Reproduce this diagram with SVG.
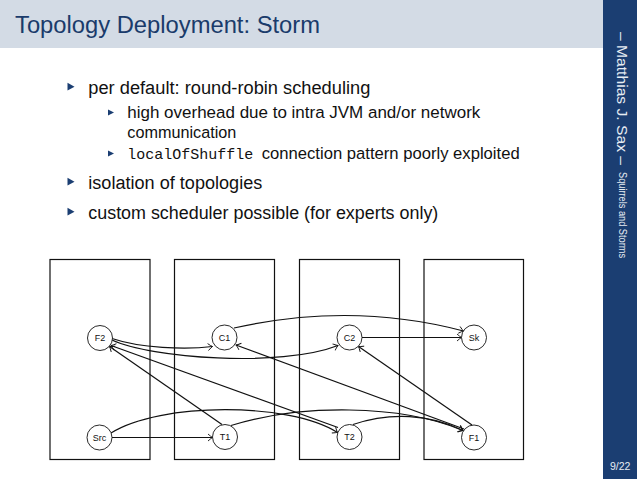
<svg xmlns="http://www.w3.org/2000/svg" width="638" height="479" viewBox="0 0 638 479">
<style>
.title{font-family:"Liberation Sans",Arial,sans-serif;font-size:23px;fill:#1a3b6b}
.t1{font-family:"Liberation Sans",Arial,sans-serif;font-size:18px;fill:#111}
.t2{font-family:"Liberation Sans",Arial,sans-serif;font-size:16.8px;fill:#111}
.mono{font-family:"Liberation Mono","Courier New",monospace;font-size:15px;fill:#111}
.bul{fill:#1b3e72}
.side{font-family:"Liberation Sans",Arial,sans-serif;fill:#e6ecf3}
.box{fill:none;stroke:#111;stroke-width:1.2}
.nd circle{fill:#fff;stroke:#111;stroke-width:0.9}
.nd text{font-family:"Liberation Sans",Arial,sans-serif;font-size:9px;fill:#111;text-anchor:middle}
.e{fill:none;stroke:#111;stroke-width:1.2;marker-end:url(#arr)}
</style>
<defs>
<marker id="arr" markerUnits="userSpaceOnUse" markerWidth="10" markerHeight="10" viewBox="-6 -5 8 10" refX="0" refY="0" orient="auto">
<path d="M-4.5,-3.5 Q-1.5,-0.8 0,0 Q-1.5,0.8 -4.5,3.5" fill="none" stroke="#111" stroke-width="0.9"/>
</marker>
</defs>
<rect width="638" height="479" fill="#fff"/>
<rect x="0" y="0" width="603" height="48" fill="#d3dbe5"/>
<rect x="603" y="0" width="34" height="479" fill="#1b3e72"/>
<text class="title" x="15" y="33" textLength="305" lengthAdjust="spacingAndGlyphs">Topology Deployment: Storm</text>
<text class="side" font-size="15" transform="translate(617,32) rotate(90)" textLength="133" lengthAdjust="spacingAndGlyphs">– Matthias J. Sax –</text>
<text class="side" font-size="10" transform="translate(619,172) rotate(90)" textLength="86" lengthAdjust="spacingAndGlyphs">Squirrels and Storms</text>
<text class="side" font-size="10.5" x="610" y="470">9/22</text>

<g id="bullets">
<polygon class="bul" points="67.5,82.8 74.5,86.7 67.5,90.6"/>
<text class="t1" x="88.3" y="94" textLength="282" lengthAdjust="spacingAndGlyphs">per default: round-robin scheduling</text>
<polygon class="bul" points="108,109.5 114,112.5 108,115.5"/>
<text class="t2" x="127.3" y="117.5" textLength="353" lengthAdjust="spacingAndGlyphs">high overhead due to intra JVM and/or network</text>
<text class="t2" x="127.3" y="137.5" textLength="109" lengthAdjust="spacingAndGlyphs">communication</text>
<polygon class="bul" points="108,150.5 114,153.5 108,156.5"/>
<text class="mono" x="127.3" y="158.5" textLength="126" lengthAdjust="spacingAndGlyphs">localOfShuffle</text>
<text class="t2" x="261.7" y="158.5" textLength="258" lengthAdjust="spacingAndGlyphs">connection pattern poorly exploited</text>
<polygon class="bul" points="67.5,177.8 74.5,181.7 67.5,185.6"/>
<text class="t1" x="88.3" y="189" textLength="174" lengthAdjust="spacingAndGlyphs">isolation of topologies</text>
<polygon class="bul" points="67.5,207.8 74.5,211.7 67.5,215.6"/>
<text class="t1" x="88.3" y="219" textLength="350" lengthAdjust="spacingAndGlyphs">custom scheduler possible (for experts only)</text>
</g>

<g id="box1"><rect class="box" x="50" y="259.5" width="100" height="200"/></g>
<g id="box2"><rect class="box" x="174.5" y="259.5" width="100" height="200"/></g>
<g id="box3"><rect class="box" x="299.5" y="259.5" width="100" height="200"/></g>
<g id="box4"><rect class="box" x="424" y="259.5" width="99.5" height="200"/></g>

<g id="connectors">
<path class="e" d="M112,437.5 L212.5,437.5"/>
<path class="e" d="M111,433 C160,402 290,402 337.5,432.5"/>
<path class="e" d="M222,424.5 L109.5,346.5"/>
<path class="e" d="M231,425.5 C300,404 400,404 463,430.5"/>
<path class="e" d="M338,427.5 L111,345.5"/>
<path class="e" d="M353,424.5 C390,412 430,414 463,430.5"/>
<path class="e" d="M112,338.5 C140,348 185,350 212.5,346.5"/>
<path class="e" d="M112,340 C150,358 280,368 338,345.5"/>
<path class="e" d="M464,429 L236,345"/>
<path class="e" d="M472,425 L358.5,346.5"/>
<path class="e" d="M234,328 C310,311 388,311 463.5,331"/>
<path class="e" d="M362,337.5 L461.5,337.5"/>
</g>

<g id="F2" class="nd"><circle cx="100" cy="338" r="12.5"/><text x="100" y="341">F2</text></g>
<g id="C1" class="nd"><circle cx="224.5" cy="337.5" r="12.5"/><text x="224.5" y="340.5">C1</text></g>
<g id="C2" class="nd"><circle cx="349.5" cy="337.5" r="12.5"/><text x="349.5" y="340.5">C2</text></g>
<g id="Sk" class="nd"><circle cx="474" cy="337.5" r="12.5"/><text x="474" y="340.5">Sk</text></g>
<g id="Src" class="nd"><circle cx="99.5" cy="437.5" r="12.5"/><text x="99.5" y="440.5">Src</text></g>
<g id="T1" class="nd"><circle cx="225" cy="437" r="12.5"/><text x="225" y="440">T1</text></g>
<g id="T2" class="nd"><circle cx="349.5" cy="437" r="12.5"/><text x="349.5" y="440">T2</text></g>
<g id="F1" class="nd"><circle cx="474" cy="437.5" r="12.5"/><text x="474" y="440.5">F1</text></g>
</svg>
